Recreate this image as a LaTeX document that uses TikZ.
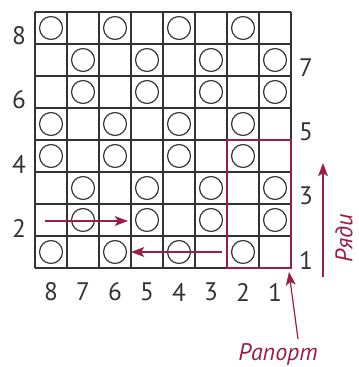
\documentclass[tikz,border=0pt]{standalone}
\usepackage{fontspec}
\setmainfont{PT Sans}
\usetikzlibrary{arrows.meta}
\definecolor{ChartRed}{HTML}{9B1D4C}
\definecolor{GridDark}{HTML}{333333}

\begin{document}
\begin{tikzpicture}[x=0.75pt, y=-0.75pt, font=\fontsize{19}{22}\selectfont,
    cell/.style={draw=GridDark, line width=1.1pt},
    yarnover/.style={draw=GridDark, line width=0.9pt},
    rowarrow/.style={draw=ChartRed, line width=0.9pt, -{Stealth[length=10pt, width=7.5pt, inset=2.5pt]}},
    redlabel/.style={text=ChartRed, inner sep=0pt, font=\fontsize{18}{21}\selectfont\itshape},
    numlabel/.style={text=GridDark, inner sep=0pt}]
  \useasboundingbox (0,0) rectangle (358,367);

  % Grid
  \foreach \i in {0,...,8} {
    \draw[cell] (35+32*\i,12) -- (35+32*\i,268);
    \draw[cell] (35,12+32*\i) -- (291,12+32*\i);
  }

  % Yarn overs
  \foreach \r/\o in {1/0,2/1,3/1,4/0,5/0,6/1,7/1,8/0}
    \foreach \c in {0,2,4,6}
      \draw[yarnover] (51+32*\c+32*\o, 284-32*\r) circle[radius=8.6pt];

  % Row numbers
  \foreach \r in {2,4,6,8}
    \node[numlabel] (row\r) at (19, 292-32*\r) {\r};
  \foreach \r in {1,3,5,7}
    \node[numlabel] (row\r) at (306, 292-32*\r) {\r};

  % Stitch numbers
  \foreach \s in {1,...,8}
    \node[numlabel] (st\s) at (307-32*\s, 292) {\s};

  % Repeat
  \draw[draw=ChartRed, line width=1.8pt] (227,140) rectangle (291,268);
  \coordinate (corner) at (289,272);
  \node[redlabel] (repeat) at (278,354) {Рапорт};
  \coordinate (reptail) at (298,339);
  \draw[rowarrow] (reptail) -- (corner);

  % Direction of rows
  \coordinate (rowsbot) at (323,277);
  \coordinate (rowstop) at (323,163);
  \draw[rowarrow] (rowsbot) -- (rowstop);
  \node[redlabel, rotate=90] (rows) at (344,238) {Ряди};

  % Knitting direction
  \coordinate (r2start) at (45,221);
  \coordinate (r2end) at (128,221);
  \draw[rowarrow] (r2start) -- (r2end);
  \coordinate (r1start) at (222,252);
  \coordinate (r1end) at (131,252);
  \draw[rowarrow] (r1start) -- (r1end);
\end{tikzpicture}
\end{document}
